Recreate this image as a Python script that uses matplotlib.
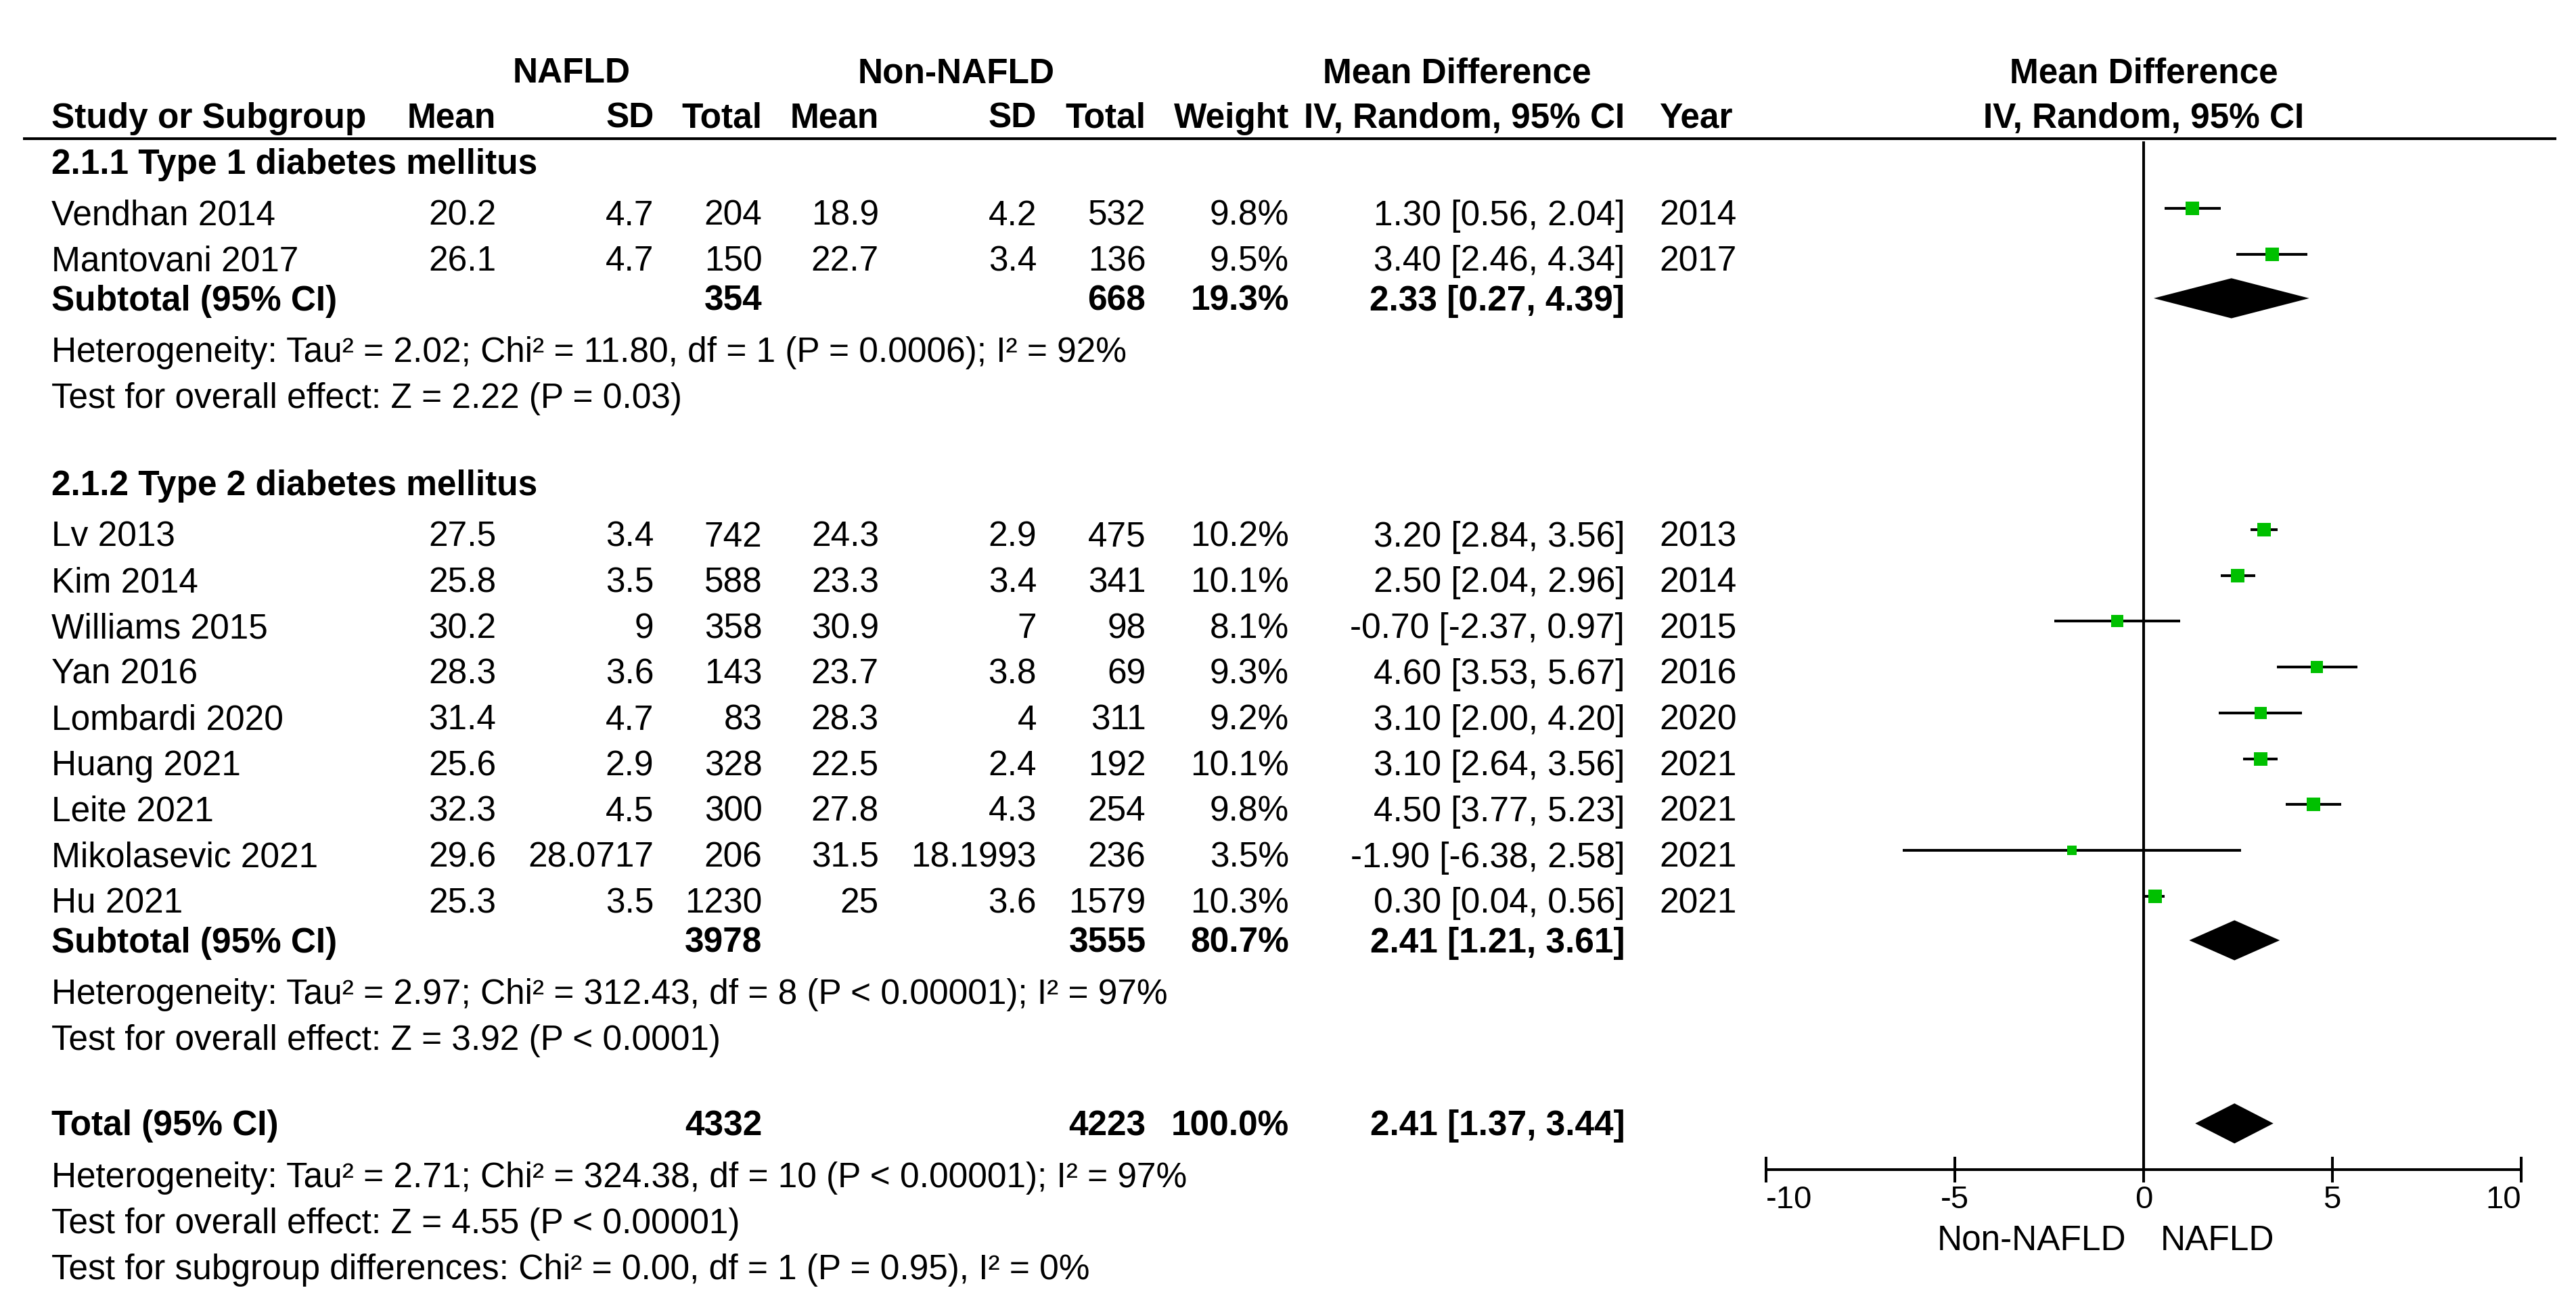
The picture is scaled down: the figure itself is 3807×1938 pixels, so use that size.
import matplotlib.pyplot as plt

plt.rcParams['font.family'] = ['Liberation Sans', 'DejaVu Sans']

# ---- data ----
groups = ['2.1.1 Type 1 diabetes mellitus', '2.1.2 Type 2 diabetes mellitus']
study_group = [0, 0, 1, 1, 1, 1, 1, 1, 1, 1, 1]
studies = ['Vendhan 2014', 'Mantovani 2017', 'Lv 2013', 'Kim 2014', 'Williams 2015',
           'Yan 2016', 'Lombardi 2020', 'Huang 2021', 'Leite 2021', 'Mikolasevic 2021', 'Hu 2021']
nafld_mean = [20.2, 26.1, 27.5, 25.8, 30.2, 28.3, 31.4, 25.6, 32.3, 29.6, 25.3]
nafld_sd = [4.7, 4.7, 3.4, 3.5, 9, 3.6, 4.7, 2.9, 4.5, 28.0717, 3.5]
nafld_n = [204, 150, 742, 588, 358, 143, 83, 328, 300, 206, 1230]
non_mean = [18.9, 22.7, 24.3, 23.3, 30.9, 23.7, 28.3, 22.5, 27.8, 31.5, 25]
non_sd = [4.2, 3.4, 2.9, 3.4, 7, 3.8, 4, 2.4, 4.3, 18.1993, 3.6]
non_n = [532, 136, 475, 341, 98, 69, 311, 192, 254, 236, 1579]
weight = [9.8, 9.5, 10.2, 10.1, 8.1, 9.3, 9.2, 10.1, 9.8, 3.5, 10.3]
md = [1.30, 3.40, 3.20, 2.50, -0.70, 4.60, 3.10, 3.10, 4.50, -1.90, 0.30]
ci_lo = [0.56, 2.46, 2.84, 2.04, -2.37, 3.53, 2.00, 2.64, 3.77, -6.38, 0.04]
ci_hi = [2.04, 4.34, 3.56, 2.96, 0.97, 5.67, 4.20, 3.56, 5.23, 2.58, 0.56]
year = [2014, 2017, 2013, 2014, 2015, 2016, 2020, 2021, 2021, 2021, 2021]

sub_weight = [19.3, 80.7]
sub_md = [2.33, 2.41]
sub_lo = [0.27, 1.21]
sub_hi = [4.39, 3.61]
sub_notes = [['Heterogeneity: Tau\u00b2 = 2.02; Chi\u00b2 = 11.80, df = 1 (P = 0.0006); I\u00b2 = 92%',
              'Test for overall effect: Z = 2.22 (P = 0.03)'],
             ['Heterogeneity: Tau\u00b2 = 2.97; Chi\u00b2 = 312.43, df = 8 (P < 0.00001); I\u00b2 = 97%',
              'Test for overall effect: Z = 3.92 (P < 0.0001)']]
total_weight = 100.0
total_md, total_lo, total_hi = 2.41, 1.37, 3.44
total_notes = ['Heterogeneity: Tau\u00b2 = 2.71; Chi\u00b2 = 324.38, df = 10 (P < 0.00001); I\u00b2 = 97%',
               'Test for overall effect: Z = 4.55 (P < 0.00001)',
               'Test for subgroup differences: Chi\u00b2 = 0.00, df = 1 (P = 0.95), I\u00b2 = 0%']
xticks = [-10, -5, 0, 5, 10]

# ---- layout (units = pixels of a 1568 x 798 view) ----
W, H = 1568, 798.2
FS = 37
LW = 2.9
AXIS_Y = 712
X_LABEL = 31.5
X_MEAN1, X_SD1, X_N1 = 302, 398, 464
X_MEAN2, X_SD2, X_N2 = 535, 631, 697.5
X_W, X_CI, X_YEAR = 784.6, 989, 1010
GREEN = '#00c000'

fig = plt.figure(figsize=(38.07, 19.38), dpi=100)
tx = fig.add_axes([0, 0, 1, 1])
tx.set_xlim(0, W)
tx.set_ylim(H, 0)
tx.axis('off')

fx = fig.add_axes([1075 / W, (H - AXIS_Y) / H, (1534.5 - 1075) / W, AXIS_Y / H])
fx.set_xlim(-10, 10)
fx.set_ylim(AXIS_Y, 0)
fx.patch.set_alpha(0)
for s in ['top', 'left', 'right']:
    fx.spines[s].set_visible(False)
fx.spines['bottom'].set_linewidth(LW)
fx.set_yticks([])
fx.set_xticks(xticks)
fx.set_xticklabels([str(t) for t in xticks])
fx.tick_params(axis='x', direction='inout', length=27, width=LW, labelsize=34, pad=3)
tl = fx.get_xticklabels()
tl[0].set_ha('left')
tl[-1].set_ha('right')


def put(x, yc, s, ha='left', bold=False):
    tx.text(x, yc + 7.3, s, ha=ha, va='baseline', fontsize=FS,
            fontweight='bold' if bold else 'normal')


def diamond(yc, c, lo, hi):
    h = 12.2
    fx.fill([lo, c, hi, c], [yc, yc - h, yc, yc + h], color='black', lw=0)


# headers
put(348, 43, 'NAFLD', ha='center', bold=True)
put(582, 43, 'Non-NAFLD', ha='center', bold=True)
put(887, 43, 'Mean Difference', ha='center', bold=True)
put(1305, 43, 'Mean Difference', ha='center', bold=True)
hdr = [(X_LABEL, 'Study or Subgroup', 'left'), (X_MEAN1, 'Mean', 'right'), (X_SD1, 'SD', 'right'),
       (X_N1, 'Total', 'right'), (X_MEAN2, 'Mean', 'right'), (X_SD2, 'SD', 'right'),
       (X_N2, 'Total', 'right'), (X_W, 'Weight', 'right'), (X_CI, 'IV, Random, 95% CI', 'right'),
       (X_YEAR, 'Year', 'left'), (1305, 'IV, Random, 95% CI', 'center')]
for x, s, ha in hdr:
    put(x, 70.5, s, ha=ha, bold=True)
tx.plot([14, 1556], [84.3, 84.3], color='black', lw=LW, solid_capstyle='butt')

fx.vlines(0, 86, AXIS_Y, color='black', lw=LW, clip_on=False)

y = 98.5
for g, gname in enumerate(groups):
    put(X_LABEL, y, gname, bold=True)
    idx = [i for i, sg in enumerate(study_group) if sg == g]
    y += 31.2
    for k, i in enumerate(idx):
        if k > 0:
            y += 27.9
        put(X_LABEL, y, studies[i])
        put(X_MEAN1, y, f'{nafld_mean[i]:g}', ha='right')
        put(X_SD1, y, f'{nafld_sd[i]:g}', ha='right')
        put(X_N1, y, str(nafld_n[i]), ha='right')
        put(X_MEAN2, y, f'{non_mean[i]:g}', ha='right')
        put(X_SD2, y, f'{non_sd[i]:g}', ha='right')
        put(X_N2, y, str(non_n[i]), ha='right')
        put(X_W, y, f'{weight[i]:.1f}%', ha='right')
        put(X_CI, y, f'{md[i]:.2f} [{ci_lo[i]:.2f}, {ci_hi[i]:.2f}]', ha='right')
        put(X_YEAR, y, str(year[i]))
        ym = y - 2.8
        fx.hlines(ym, ci_lo[i], ci_hi[i], color='black', lw=LW, clip_on=False)
        side = (11.5 + 0.8 * weight[i]) * 0.72
        fx.plot(md[i], ym, marker='s', ms=side, color=GREEN, mec=GREEN, mew=0, clip_on=False)
    y += 24
    put(X_LABEL, y, 'Subtotal (95% CI)', bold=True)
    put(X_N1, y, str(sum(nafld_n[i] for i in idx)), ha='right', bold=True)
    put(X_N2, y, str(sum(non_n[i] for i in idx)), ha='right', bold=True)
    put(X_W, y, f'{sub_weight[g]:.1f}%', ha='right', bold=True)
    put(X_CI, y, f'{sub_md[g]:.2f} [{sub_lo[g]:.2f}, {sub_hi[g]:.2f}]', ha='right', bold=True)
    diamond(y, sub_md[g], sub_lo[g], sub_hi[g])
    y += 31.5
    put(X_LABEL, y, sub_notes[g][0])
    y += 28
    put(X_LABEL, y, sub_notes[g][1])
    y += 53

y -= 1
put(X_LABEL, y, 'Total (95% CI)', bold=True)
put(X_N1, y, str(sum(nafld_n)), ha='right', bold=True)
put(X_N2, y, str(sum(non_n)), ha='right', bold=True)
put(X_W, y, f'{total_weight:.1f}%', ha='right', bold=True)
put(X_CI, y, f'{total_md:.2f} [{total_lo:.2f}, {total_hi:.2f}]', ha='right', bold=True)
diamond(y, total_md, total_lo, total_hi)
y += 31.5
for note in total_notes:
    put(X_LABEL, y, note)
    y += 28

fx.text(-0.45, 761, 'Non-NAFLD', ha='right', va='baseline', fontsize=FS, clip_on=False)
fx.text(0.45, 761, 'NAFLD', ha='left', va='baseline', fontsize=FS, clip_on=False)

fig.savefig('out.png', dpi=100)
